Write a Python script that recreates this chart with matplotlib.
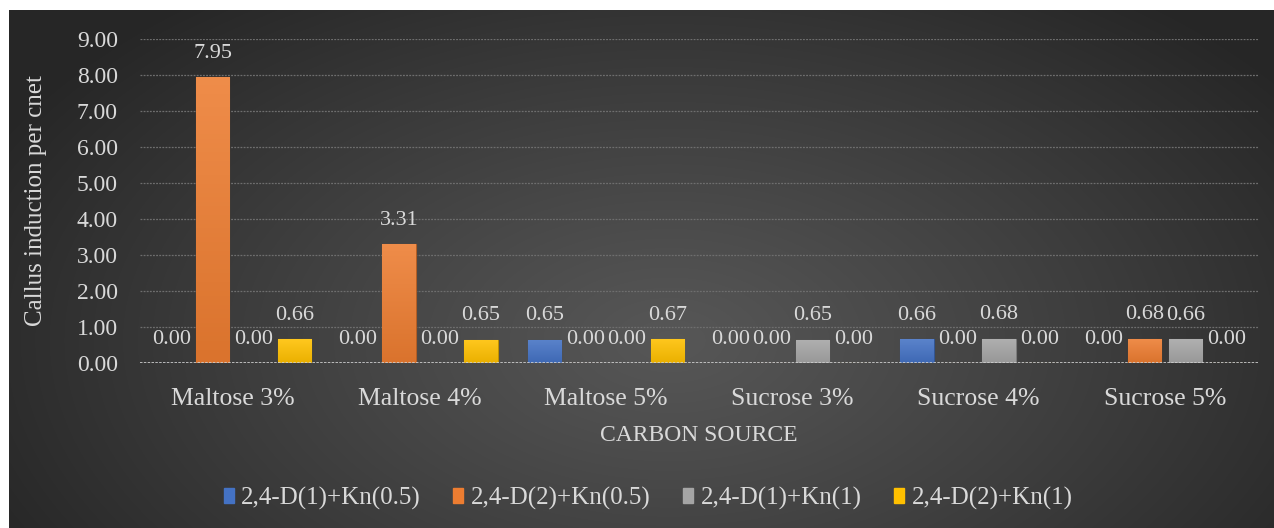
import numpy as np
import matplotlib
matplotlib.use("Agg")
import matplotlib.pyplot as plt
from matplotlib.colors import LinearSegmentedColormap, to_rgb
from matplotlib.patches import Patch

categories = ["Maltose 3%", "Maltose 4%", "Maltose 5%", "Sucrose 3%", "Sucrose 4%", "Sucrose 5%"]
series_names = ["2,4-D(1)+Kn(0.5)", "2,4-D(2)+Kn(0.5)", "2,4-D(1)+Kn(1)", "2,4-D(2)+Kn(1)"]
d1_kn05 = [0.00, 0.00, 0.65, 0.00, 0.66, 0.00]
d2_kn05 = [7.95, 3.31, 0.00, 0.00, 0.00, 0.68]
d1_kn1 = [0.00, 0.00, 0.00, 0.65, 0.68, 0.66]
d2_kn1 = [0.66, 0.65, 0.67, 0.00, 0.00, 0.00]
series_values = [d1_kn05, d2_kn05, d1_kn1, d2_kn1]
series_colors = ["#4472C4", "#ED7D31", "#A5A5A5", "#FFC000"]
yticks = [0, 1, 2, 3, 4, 5, 6, 7, 8, 9]

plt.rcParams["font.family"] = ["Liberation Serif", "DejaVu Serif"]
TXT = "#d9d9d9"

W, H = 1274, 528
fig = plt.figure(figsize=(W / 100, H / 100), dpi=100)
fig.patch.set_facecolor("white")

# radial gradient backdrop of the chart area
bg = fig.add_axes([9 / W, 0, 1 - 9 / W, 1 - 10 / H])
bg.set_axis_off()
yy, xx = np.mgrid[0:518, 0:1265]
cx, cy = 660, 330
r = np.sqrt(((xx - cx) / 760.0) ** 2 + ((yy - cy) / 440.0) ** 2)
r = np.clip(r, 0, 1)
shade = 0.34 - 0.19 * r ** 1.1
bg.imshow(np.dstack([shade] * 3), aspect="auto", extent=[0, 1, 0, 1], origin="upper")
bg.set_xlim(0, 1)
bg.set_ylim(0, 1)

ax = fig.add_axes([140 / W, 1 - 363 / H, (1258 - 140) / W, (363 - 39) / H])
ax.set_facecolor("none")
ax.set_zorder(2)

x = np.arange(len(categories))
step = 0.22
width = 0.178
offsets = (np.arange(len(series_names)) - 1.5) * step


def shade_color(c, f):
    rgb = np.array(to_rgb(c))
    if f >= 0:
        return tuple(rgb + (1 - rgb) * f)
    return tuple(rgb * (1 + f))


for i, (vals, col) in enumerate(zip(series_values, series_colors)):
    bars = ax.bar(x + offsets[i], vals, width, color=col, edgecolor=shade_color(col, -0.25),
                  linewidth=0.8, zorder=3, label=series_names[i])
    cmap = LinearSegmentedColormap.from_list("g", [shade_color(col, -0.08), shade_color(col, 0.12)])
    for b, v in zip(bars, vals):
        if v > 0:
            grad = np.linspace(0, 1, 64).reshape(-1, 1)
            im = ax.imshow(grad, cmap=cmap, aspect="auto", origin="lower",
                           extent=[b.get_x(), b.get_x() + b.get_width(), 0, v], zorder=3.5)
            im.set_clip_path(b)
        ax.annotate(f"{v:.2f}", (b.get_x() + b.get_width() / 2, v), xytext=(0, 17),
                    textcoords="offset points", ha="center", va="center",
                    color=TXT, fontsize=16, zorder=5)

ax.set_xlim(-0.5, len(categories) - 0.5)
ax.set_ylim(0, 9)
ax.set_yticks(yticks)
ax.set_yticklabels([f"{t:.2f}" for t in yticks])
ax.set_xticks(x)
ax.set_xticklabels(categories)
ax.tick_params(axis="y", length=0, colors=TXT, labelsize=17, pad=16)
ax.tick_params(axis="x", length=0, colors=TXT, labelsize=18.5, pad=18)
for s in ax.spines.values():
    s.set_visible(False)
for t in yticks[1:]:
    ax.axhline(t, color="#6e6e6e", lw=0.9, ls=(0, (1.5, 1)), zorder=1)
ax.axhline(0, color="#d0d0d0", lw=1.2, ls=(0, (1.5, 0.8)), zorder=4)
ax.set_xlim(-0.5, len(categories) - 0.5)

ax.set_xlabel("CARBON SOURCE", color=TXT, fontsize=17, labelpad=11)
ax.set_ylabel("Callus induction per cnet", color=TXT, fontsize=18, labelpad=21)

handles = [Patch(facecolor=c, edgecolor=c) for c in series_colors]
leg = fig.legend(handles, series_names, loc="center", bbox_to_anchor=(648 / W, 1 - 498 / H),
                 ncol=4, frameon=False, fontsize=18, labelcolor=TXT,
                 handlelength=0.4, handleheight=0.55, handletextpad=0.3, columnspacing=1.3)

fig.savefig("out.png", dpi=100, facecolor=fig.get_facecolor())
